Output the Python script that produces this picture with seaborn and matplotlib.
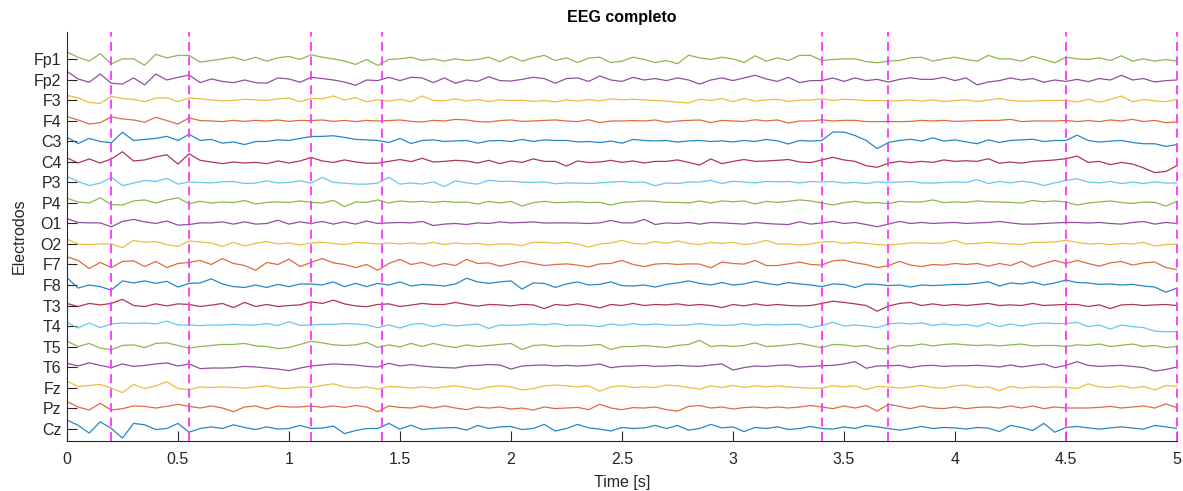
import numpy as np
import pandas as pd
import matplotlib
matplotlib.use("Agg")
import matplotlib.pyplot as plt
import seaborn as sns

# Montage (top to bottom) and one 5 s epoch per electrode, sampled every 50 ms (µV)
electrodes = ["Fp1", "Fp2", "F3", "F4", "C3", "C4", "P3", "P4", "O1", "O2",
              "F7", "F8", "T3", "T4", "T5", "T6", "Fz", "Pz", "Cz"]

fp1 = [36, 11, -8, 28, -21, 3, 3, -28, 25, 8, 20, 20, -13, -5, 3, 11, -5, 11, -8, 8,
       15, 0, 23, 11, 3, -8, -24, 0, -29, 0, 3, 11, -5, 3,
       -8, 3, -5, 0, 11, -11, 15, -8, 8, 20, -5, 8, -15, 7, 11, -15, -8, 11, 0, -15,
       -5, -21, 21, 8, 0, 11, 3, -15, 18, -8, 8, -5, 20,
       20, -5, 0, 3, 3, -10, -16, -8, -5, 8, 11, -8, 3, 11, 0, -8, 20, 3, 3, -8,
       15, 0, -16, 11, 3, 0, 8, -5, 18, -8, 3, -8, 0, -8]
fp2 = [42, 5, -11, 29, -16, -20, 10, -24, 29, 0, 13, 24, -13, 5, -7, -13, 0, -13, -16, 10,
       5, -11, 13, 7, 0, -10, -26, 0, -3, 13, -3, 13, 10, -13,
       10, -16, 0, -7, 16, -3, -5, 3, 13, 7, -16, 7, 10, -7, 20, 0, -7, 13, 0, 7,
       -3, 10, 0, -20, 0, 10, -3, 10, 23, 5, -7, 13, -13,
       -3, -3, 10, -7, 10, -3, 3, -10, 3, 11, 3, 3, 13, -3, 10, -24, -10, -3, 10, 0,
       7, -11, 0, -7, 3, -8, 7, 0, 23, 0, 7, -10, -3, 0]
f3 = [25, 13, -10, -14, 20, 10, 5, -6, 12, 13, -5, 12, 8, 3, -2, 0, 6, 3, 0, 8,
      12, -6, 10, 8, 22, 2, 14, -6, 3, -3, 6, -6, 22, 0,
      -2, 8, -3, 5, -5, 3, 0, 2, -5, 0, -7, 3, -3, 5, -2, 8, 3, 6, 3, 0,
      -3, -8, -12, 6, 0, 10, -6, 10, -3, 3, 6, -5, 2,
      2, 8, 0, 6, 3, -1, 0, -2, -1, 3, -3, 3, -5, 0, 3, -5, 2, 10, 0, -3,
      -3, 0, 0, 2, -8, 6, -8, 5, 22, -6, 5, -2, -6, 5]
f4 = [21, 5, -15, -8, 20, 10, 5, -6, 18, 2, -15, 15, 2, 0, -3, 3, -2, 3, 0, 5,
      -2, 3, 2, 5, -2, 3, -3, 3, 0, 2, 5, -2, -5, 3,
      0, 8, 5, -3, -5, 2, 5, -2, 0, 3, 5, 0, -3, 6, -8, 0, 0, 2, 0, 5,
      -6, 0, 3, 5, -8, 3, 0, -2, 6, 0, 5, -10, 0,
      0, 6, 0, 3, 3, -3, -3, -3, -3, -2, 3, 0, 3, -2, 0, 2, 3, 3, 8, -3,
      0, 0, 0, 3, -3, 2, -3, 5, 0, 8, -3, 3, -8, -5]
c3 = [21, -10, 15, 0, -6, 45, 5, 10, 15, 25, 5, 35, 5, 10, -8, -2, -15, 0, 0, 8,
      5, 15, 24, 25, 28, 20, 10, 8, 5, -5, 15, -10, 5, 8,
      0, 3, 5, -8, 3, 5, 0, 10, 0, 8, 5, 5, -2, 0, -5, 2, -8, 10, 5, 3,
      5, -3, 3, 5, 0, 3, -2, 5, 0, 10, 3, -12, 5,
      2, 5, 46, 46, 29, 5, -35, -5, 5, 11, 2, 18, 2, 8, -2, -11, 8, -5, 5, 8,
      11, 0, 5, 5, 31, 5, -3, 2, 5, -5, -11, -11, -24, -15]
c4 = [20, -5, 15, -5, 15, 50, 5, 10, 25, 35, -10, 40, 8, 0, -8, 0, -5, -2, -8, 5,
      -5, 5, 22, 5, -2, 10, 0, -6, -6, 3, 12, 2, 18, 0,
      3, 8, 5, -5, 8, -8, 5, -2, 15, 3, 3, -20, 5, -3, 0, 8, -2, 5, -5, 3,
      3, 10, -2, -15, 15, -8, 3, 12, 3, 5, 8, 12, 0,
      -3, 10, 23, 10, 3, -18, -26, -6, 3, -3, 3, -2, 10, 3, 6, 3, 16, -6, 0, -6,
      3, 6, 10, 16, 29, -2, 3, -13, -2, -10, -29, -52, -46, -18]
p3 = [30, 5, -15, -3, 25, -15, -3, 10, 5, 20, -8, 3, 0, -2, 3, 5, -5, -3, 8, -2,
      0, 8, -3, 25, 0, -3, -8, -8, -3, 25, -8, -2, -8, 3,
      -20, 8, -2, -8, 11, 5, 6, 2, 0, 3, -6, -2, -3, -5, -2, 2, 5, 0, 2, -16,
      -2, -5, 2, 2, 10, -5, 6, 2, -2, 5, 3, 5, -2,
      5, 2, 5, -3, 0, -5, 3, 0, 2, 5, -2, -3, 0, 3, 0, 14, -5, 5, -2, 6,
      0, -15, -2, 10, 18, 3, -2, 5, -5, 2, -5, 3, -3, -2]
p4 = [23, 5, 0, 25, -8, -10, 10, 15, 0, 15, 25, -3, 8, 0, 5, 2, 12, -5, 3, 5,
      3, 10, 3, 0, 13, -18, 5, 3, 15, 0, 10, 5, 8, 3,
      8, 3, 5, -5, 8, 0, 8, -15, 2, 8, 2, 3, 6, 2, 3, -10, 3, 6, 10, 8,
      3, 3, 0, 10, 0, 10, 6, 10, -5, 8, 3, 8, 15,
      10, 0, -10, 2, 8, 0, 2, -3, 8, 5, 5, 15, 2, 5, 3, 10, 6, 5, 3, 0,
      12, 6, 10, 5, -10, 0, 5, 10, 2, -2, 5, 3, -15, 8]
o1 = [24, 5, 3, 3, -16, 10, 20, 8, 0, 12, -8, -5, 3, 3, 8, -3, 8, -3, 0, 16,
      -3, 8, 0, 10, -3, 8, -3, 12, 0, 3, 5, 3, 10, -10,
      -3, 0, -5, 3, 0, 8, 3, 5, 8, 2, 3, 3, 2, 0, 3, 15, 3, 3, 20, -5,
      3, 0, 5, -3, 5, 3, 0, -3, 5, 0, -3, -5, 8,
      -3, 3, 10, 0, 5, -5, -16, -3, 10, 0, 5, 0, 3, 5, 0, 3, 5, 10, 3, -3,
      -3, 0, 3, 5, 5, 2, 5, 0, -3, 5, 10, -3, 5, 0]
o2 = [24, 0, -3, 0, 0, -18, 18, 8, 12, -3, -12, 15, 10, 5, -12, 8, -10, 3, 12, 0,
      5, -5, 5, 8, 3, -3, 8, 5, 0, 5, 0, 5, 0, 8,
      -3, 5, 0, 3, -5, 0, 0, -8, 8, 8, 3, 8, 0, -15, 0, 5, 18, 3, 0, 12,
      3, 15, 3, -3, 8, 3, 8, -3, 3, 18, 0, 0, -5,
      0, 10, 12, 3, 8, 3, -3, -5, 0, 5, 5, 3, 5, 18, 0, 3, 8, 3, 0, -2,
      8, 8, 10, 18, 8, 0, 3, -3, 3, 0, 8, -10, -3, 0]
f7 = [38, 20, -20, 10, -15, 15, 18, -10, 15, -15, 5, 10, 20, 0, 29, 5, -5, -28, 10, 0,
      26, -10, 10, 29, 8, 0, -15, 0, -28, 5, 25, 0, 10, -8,
      5, -5, 25, 5, 8, -8, 3, 15, 5, -5, 0, 3, -3, -12, 3, 5, 20, 0, -10, 2,
      5, 0, 3, 2, -16, 12, 5, 2, 20, -5, -5, 3, 12,
      0, -3, 18, 22, 8, 0, -15, -6, 15, -3, -10, 0, -3, 5, 0, 5, -8, 5, -5, 15,
      -12, 5, 20, 5, 20, 5, -8, 8, 15, -3, 8, 12, -15, -25]
f8 = [36, -15, 0, -8, -25, 20, 10, 20, 8, 18, -10, 8, 10, 30, 5, -8, -12, 0, -12, 3,
      -8, 5, 5, 0, 15, -8, 8, -8, 8, 0, 15, -5, 3, 0,
      -5, 5, 33, 15, 8, 15, 20, -20, 10, 8, -12, 5, 15, 0, 3, 15, -3, -5, 0, -10,
      3, 10, 20, 8, 0, 12, 0, 5, 18, 8, 0, 12, 5,
      0, -8, 5, 3, -12, 5, 3, -3, 0, -10, 0, -3, 0, 3, 3, 8, 16, -5, 10, 5,
      15, 0, 10, 24, 12, 10, 3, 5, 0, 3, -5, -10, -35, -15]
t3 = [10, -5, 10, 3, 10, 30, 0, -5, 8, -2, 8, 5, -5, 2, 10, -10, 15, -5, 5, -5,
      0, 3, 18, 10, 26, 8, -2, -6, 5, 8, -5, 2, 10, 5,
      5, 15, 5, -3, 5, 3, -2, 5, 3, -15, 5, 0, 8, 0, -12, 5, 0, 10, 0, 5,
      3, 8, 0, 5, 0, -10, 5, -2, 8, 0, 5, 0, -2,
      0, 10, 21, 15, 8, 0, -28, -3, 10, 15, 0, 8, 0, 5, 0, 5, 10, 0, 3, 0,
      10, 0, 3, 5, 5, -5, 3, -15, 3, 5, 0, 3, 5, 0]
t4 = [18, -10, 15, -8, 10, 15, 12, 15, 10, 24, 5, 5, 2, 5, 5, 8, 5, 5, 12, 2,
      21, 3, 5, 8, 8, 12, 10, 5, -8, 5, -10, 8, 12, -3,
      8, 0, 5, 10, -12, 5, 3, 5, 10, 5, 12, 3, 5, 3, -3, 10, 3, 12, 5, 10,
      5, 3, 5, 12, 5, 3, 5, 12, 3, 8, 5, 8, 8,
      -8, 3, 18, 0, 5, 0, -8, 10, 15, 10, 15, 3, 10, 3, 8, -3, 15, -3, 10, 0,
      10, 15, 12, 12, 18, -3, 5, -15, 5, -3, -8, -25, -28, -28]
t5 = [26, 0, 15, -8, -15, 5, 8, -5, 15, 18, 5, -8, 0, 5, 10, 10, 15, 3, 0, -10,
      -5, 10, 25, 18, 8, 5, 8, 20, -5, 8, -2, 15, 0, 15,
      3, -5, 8, 0, 5, 10, 15, -15, 5, 8, 0, 5, 3, 5, 10, -15, 0, 0, 5, 0,
      -5, 5, 10, 30, 0, 5, 0, 5, 18, 0, 3, 8, 15,
      5, -6, 10, 8, 0, 5, -10, -12, 5, 3, 12, 3, 10, 13, 8, 5, 8, 3, 8, 12,
      3, 5, 5, 0, 8, 5, 12, 0, 6, 12, 0, 5, -5, 0]
t6 = [18, 5, 20, 8, -3, 15, 3, 8, 15, 20, 5, 15, -8, -5, -5, -3, 3, 0, -5, -10,
      -18, -5, 5, 10, 15, 12, 10, 3, 0, 18, 5, 12, 5, 0,
      -3, -5, 5, 8, 12, 10, -10, 5, 8, 10, 5, 8, 5, 8, 15, -3, 3, 5, 8, 3,
      5, 8, 5, 3, 10, 15, -15, -3, 5, 3, 8, 10, 0,
      3, 6, 8, 15, 26, -6, 5, 6, 8, -3, 6, 8, 3, 6, 6, 8, 5, 0, 10, 0,
      8, 15, -3, 8, 26, 8, 3, 6, 8, 3, -3, -20, -12, 0]
fz = [31, 5, 10, 15, -3, -25, 15, -5, 8, 28, -5, -10, 3, 0, 3, 0, -3, 3, 8, -3,
      -5, 3, 0, 10, 18, 3, -3, 3, -8, 5, 3, -3, 3, -3,
      3, 8, 0, -10, 3, 8, 3, -12, -5, 8, 12, 8, 3, 8, -18, 3, 8, 0, 3, 0,
      12, 8, 0, -8, 8, 0, 10, 0, 8, 3, 8, 3, 0,
      -3, -3, 8, 3, 8, -10, 5, 3, -3, 3, 10, 0, -3, 8, 12, 0, 3, -16, 5, -3,
      3, 0, 3, 0, -5, 18, 3, 0, 8, -3, 5, -12, 10, 5]
pz = [31, 5, -10, 23, -10, -3, 10, 8, 0, 8, 18, 8, 0, 10, 0, -18, 5, 10, -5, 10,
      5, 5, 10, 3, 10, 3, 12, 5, -18, 10, 3, 0, 10, 0,
      10, 0, -8, 5, 0, 5, -5, 0, -10, 5, -3, 0, 3, -8, 18, 0, -8, 2, 0, 5,
      -8, -15, 8, 12, 0, 5, -5, 2, 5, 0, 5, 0, 5,
      12, 5, -3, 10, 0, 12, -15, 18, 8, -3, 10, 0, -3, 5, -3, 3, 5, 0, 10, 0,
      10, -3, 5, 0, 0, 0, 3, 8, 0, 5, 10, 0, 20, 2]
cz = [41, 16, -22, 33, 0, -47, 25, 18, -5, 0, 25, -18, 0, 8, 0, 18, 5, -5, 8, -3,
      0, 15, 0, 2, 12, -25, -10, 0, 0, 25, -3, 16, -5, 0,
      3, 5, -8, 15, 0, 8, 10, -5, 0, 20, -12, 0, 20, 3, -3, -12, 5, 0, 3, 15,
      0, 15, -8, 0, 20, 3, 8, -15, 5, 0, 8, -5, 0,
      10, 0, -3, 8, 0, 15, 8, 0, -8, 0, 10, 0, 5, 3, -3, 5, 2, -15, 15, 5,
      -10, 25, -18, 5, 10, 3, -3, 3, 8, 2, -3, 15, 8, 0]

signals = [fp1, fp2, f3, f4, c3, c4, p3, p4, o1, o2,
           f7, f8, t3, t4, t5, t6, fz, pz, cz]

# Event markers (s)
event_times = [0.2, 0.55, 1.1, 1.42, 3.4, 3.7, 4.5, 5.0]
x_ticks = [0, 0.5, 1, 1.5, 2, 2.5, 3, 3.5, 4, 4.5, 5]
x_tick_labels = ["0", "0.5", "1", "1.5", "2", "2.5", "3", "3.5", "4", "4.5", "5"]
duration = 5.0
spacing = 100

# Line colours cycle from the bottom trace upwards
color_cycle = ["#0072BD", "#D95319", "#EDB120", "#7E2F8E", "#77AC30", "#4DBEEE", "#A2142F"]

sns.set_theme(style="white")
plt.rcParams["font.family"] = ["Liberation Sans", "DejaVu Sans"]

fig = plt.figure(figsize=(11.83, 4.91), dpi=100)
ax = fig.add_axes([0.0566, 0.1018, 0.9383, 0.833])

n = len(electrodes)
offsets = [(n - i) * spacing for i in range(n)]

frames = []
for i, (name, sig) in enumerate(zip(electrodes, signals)):
    t = np.linspace(0, duration, len(sig))
    frames.append(pd.DataFrame({"time": t, "amp": np.asarray(sig, float) + offsets[i],
                                "electrode": name}))
data = pd.concat(frames, ignore_index=True)

palette = {name: color_cycle[(n - 1 - i) % len(color_cycle)] for i, name in enumerate(electrodes)}
sns.lineplot(data=data, x="time", y="amp", hue="electrode", hue_order=electrodes[::-1],
             palette=palette, estimator=None, sort=False, linewidth=0.9, alpha=0.85,
             legend=False, ax=ax)

for te in event_times:
    ax.axvline(te, color="#ff33ff", linestyle=(0, (5, 3)), linewidth=1.3, clip_on=False, zorder=3)

ax.set_xlim(0, duration)
ax.set_ylim(39, 2034)
ax.set_yticks(offsets)
ax.set_yticklabels(electrodes)
ax.set_xticks(x_ticks)
ax.set_xticklabels(x_tick_labels)

axis_color = "#262626"
ax.tick_params(axis="both", which="major", direction="in", length=7.5, width=0.8,
               colors=axis_color, labelsize=11.5, bottom=True, left=True,
               top=False, right=False)
ax.tick_params(axis="y", pad=4)
ax.tick_params(axis="x", pad=8)
for side in ("top", "right"):
    ax.spines[side].set_visible(False)
for side in ("left", "bottom"):
    ax.spines[side].set_color(axis_color)
    ax.spines[side].set_linewidth(0.8)

ax.set_title("EEG completo", fontsize=11.5, fontweight="bold", color="black", pad=7)
ax.set_xlabel("Time [s]", fontsize=11.5, color=axis_color, labelpad=6)
ax.set_ylabel("Electrodos", fontsize=11.5, color=axis_color, labelpad=5)

fig.savefig("out.png", dpi=100)
